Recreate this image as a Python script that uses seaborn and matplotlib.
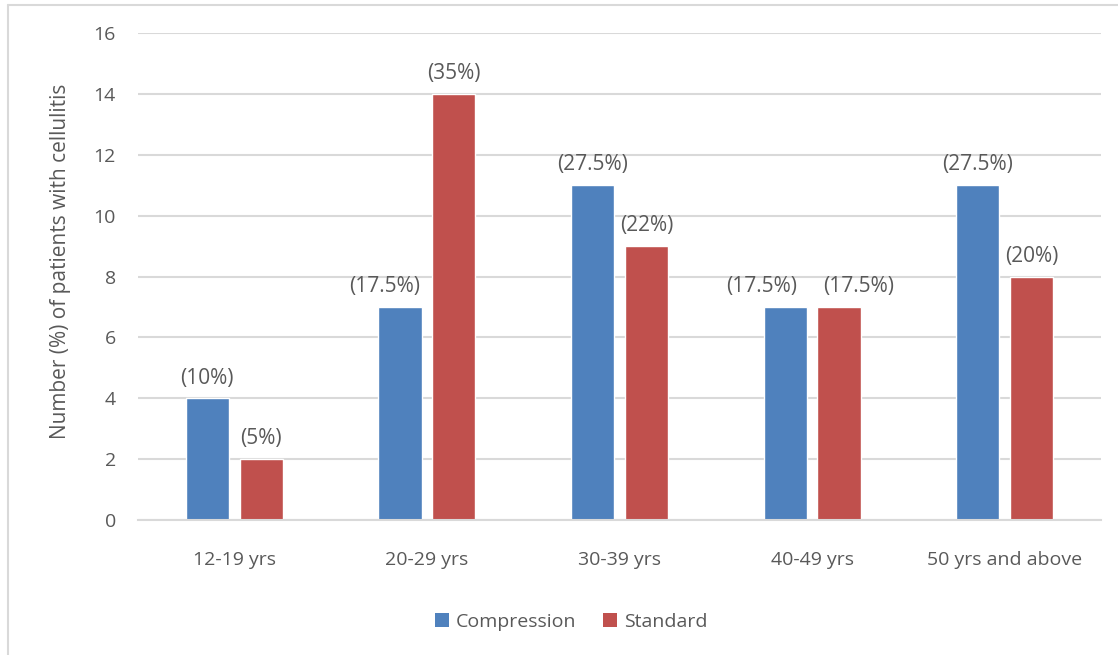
import matplotlib
matplotlib.use("Agg")
import matplotlib.pyplot as plt
from matplotlib.lines import Line2D
from matplotlib.patches import Patch
import seaborn as sns
import pandas as pd

categories = ["12-19 yrs", "20-29 yrs", "30-39 yrs", "40-49 yrs", "50 yrs and above"]
groups = ["Compression", "Standard"]
compression = [4, 7, 11, 7, 11]
standard = [2, 14, 9, 7, 8]
compression_labels = ["(10%)", "(17.5%)", "(27.5%)", "(17.5%)", "(27.5%)"]
standard_labels = ["(5%)", "(35%)", "(22%)", "(17.5%)", "(20%)"]
y_ticks = [0, 2, 4, 6, 8, 10, 12, 14, 16]

colors = {"Compression": "#4f81bd", "Standard": "#c0504d"}
text_color = "#595959"
grid_color = "#d9d9d9"

# sideways nudges (points) so neighbouring value labels don't collide
label_nudge = {
    ("Compression", "20-29 yrs"): -11,
    ("Compression", "40-49 yrs"): -17,
    ("Standard", "40-49 yrs"): 14,
}

df = pd.DataFrame({
    "category": categories * 2,
    "group": [groups[0]] * len(categories) + [groups[1]] * len(categories),
    "value": compression + standard,
})

sns.set_theme(style="white")
plt.rcParams["font.family"] = ["Open Sans", "DejaVu Sans"]

fig = plt.figure(figsize=(11.18, 6.55), dpi=100)
ax = fig.add_axes([138 / 1118, 1 - 520 / 655, (1101 - 138) / 1118, (520 - 33) / 655])

sns.barplot(data=df, x="category", y="value", hue="group", order=categories,
            hue_order=groups, palette=colors, width=0.56, gap=0.2,
            saturation=1, ax=ax, legend=False)

# value labels above each bar
label_pad = 7
for group, container, labels in zip(groups, ax.containers,
                                     [compression_labels, standard_labels]):
    texts = ax.bar_label(container, labels=labels, padding=label_pad,
                         fontsize=15, color=text_color)
    for cat, txt in zip(categories, texts):
        dx = label_nudge.get((group, cat), 0)
        if dx:
            txt.xyann = (dx, label_pad)

ax.set_ylim(0, 16)
ax.set_xlim(-0.5, len(categories) - 0.5)
ax.set_yticks(y_ticks)
ax.yaxis.grid(True, color=grid_color, linewidth=1.5)
ax.set_axisbelow(True)
for side in ["top", "right", "left"]:
    ax.spines[side].set_visible(False)
ax.spines["bottom"].set_color(grid_color)
ax.spines["bottom"].set_linewidth(1.5)
ax.tick_params(axis="both", length=0, labelsize=14, labelcolor=text_color)
ax.tick_params(axis="y", pad=16)
ax.tick_params(axis="x", pad=22)
ax.set_xlabel("")
ax.set_ylabel("Number (%) of patients with cellulitis", fontsize=15,
              color=text_color, labelpad=16)
ax.yaxis.label.set_y(0.532)

handles = [Patch(facecolor=colors[g], edgecolor="none") for g in groups]
fig.legend(handles, groups, loc="center", bbox_to_anchor=(0.511, 1 - 622 / 655),
           ncol=2, frameon=False, fontsize=14, labelcolor=text_color,
           handlelength=0.7, handleheight=0.7, handletextpad=0.35,
           columnspacing=1.4)

# chart frame
fig.add_artist(Line2D([8 / 1118, 8 / 1118], [0, 1 - 5 / 655], color=grid_color,
                      linewidth=1.5, transform=fig.transFigure))
fig.add_artist(Line2D([8 / 1118, 1], [1 - 5 / 655, 1 - 5 / 655], color=grid_color,
                      linewidth=1.5, transform=fig.transFigure))

fig.savefig("out.png", dpi=100, facecolor="white")
